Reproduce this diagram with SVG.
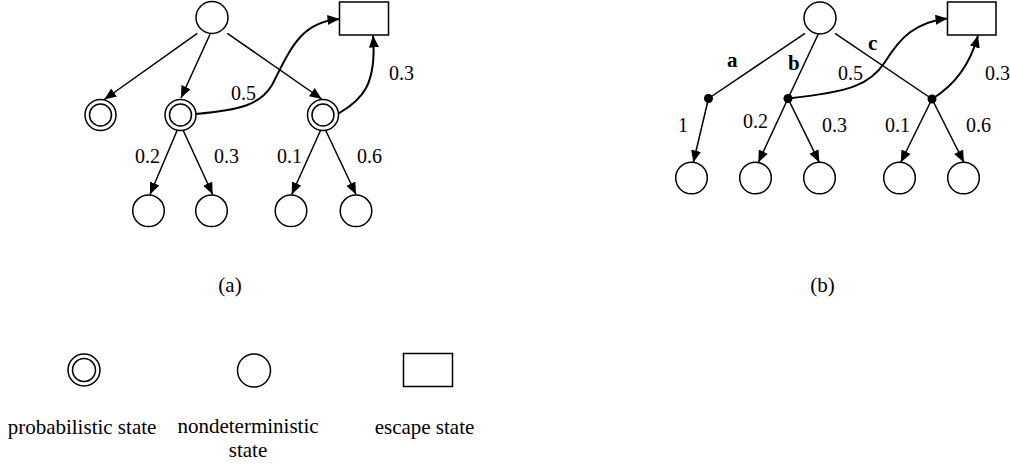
<svg xmlns="http://www.w3.org/2000/svg" width="1010" height="468" viewBox="0 0 1010 468">
<defs>
<style>
.n{fill:#fff;stroke:#000;stroke-width:1.5}
.e{fill:none;stroke:#000;stroke-width:1.5}
.c{fill:none;stroke:#000;stroke-width:2}
.t{font-family:"Liberation Serif","Times New Roman",serif;font-size:20px;fill:#000}
.b{font-family:"Liberation Serif","Times New Roman",serif;font-size:21px;font-weight:bold;fill:#000}
.l{font-family:"Liberation Serif","Times New Roman",serif;font-size:21px;fill:#000}
.d{fill:#000}
</style>
<marker id="ah" viewBox="0 0 12 10" refX="12" refY="5" markerWidth="12" markerHeight="10" markerUnits="userSpaceOnUse" orient="auto">
<path d="M0,0 L12,5 L0,10 Z" fill="#000"/>
</marker>
</defs>
<rect width="1010" height="468" fill="#fff"/>

<!-- Panel (a) nodes -->
<g id="a-top"><circle class="n" cx="212" cy="17.5" r="16"/></g>
<g id="a-escape"><rect class="n" x="339.5" y="2" width="49" height="33"/></g>
<g id="a-p1"><circle class="n" cx="100.5" cy="115" r="15.5"/><circle class="n" cx="100.5" cy="115" r="11"/></g>
<g id="a-p2"><circle class="n" cx="180.5" cy="115" r="15.5"/><circle class="n" cx="180.5" cy="115" r="11"/></g>
<g id="a-p3"><circle class="n" cx="323" cy="115" r="15.5"/><circle class="n" cx="323" cy="115" r="11"/></g>
<g id="a-b1"><circle class="n" cx="148.5" cy="210.8" r="15.8"/></g>
<g id="a-b2"><circle class="n" cx="211.5" cy="210.8" r="15.8"/></g>
<g id="a-b3"><circle class="n" cx="291" cy="210.8" r="15.8"/></g>
<g id="a-b4"><circle class="n" cx="356" cy="210.8" r="15.8"/></g>

<!-- Panel (b) nodes -->
<g id="b-top"><circle class="n" cx="820" cy="18" r="16"/></g>
<g id="b-escape"><rect class="n" x="947.5" y="2" width="48.5" height="33"/></g>
<g id="b-da"><circle class="d" cx="708.5" cy="98.5" r="4.5"/></g>
<g id="b-db"><circle class="d" cx="788" cy="98.5" r="4.5"/></g>
<g id="b-dc"><circle class="d" cx="932" cy="99" r="4.5"/></g>
<g id="b-b1"><circle class="n" cx="691.5" cy="178" r="15.8"/></g>
<g id="b-b2"><circle class="n" cx="755.5" cy="178" r="15.8"/></g>
<g id="b-b3"><circle class="n" cx="819.5" cy="178" r="15.8"/></g>
<g id="b-b4"><circle class="n" cx="899.5" cy="178" r="15.8"/></g>
<g id="b-b5"><circle class="n" cx="963.5" cy="178" r="15.8"/></g>

<!-- Connectors -->
<g id="connectors">
<line class="e" x1="197.3" y1="33.3" x2="104.3" y2="99.5" marker-end="url(#ah)"/>
<line class="e" x1="210" y1="34.3" x2="181" y2="98" marker-end="url(#ah)"/>
<line class="e" x1="227.3" y1="33.3" x2="321.7" y2="99" marker-end="url(#ah)"/>
<line class="e" x1="177.3" y1="130" x2="150" y2="194.5" marker-end="url(#ah)"/>
<line class="e" x1="183" y1="130" x2="212.7" y2="194.5" marker-end="url(#ah)"/>
<line class="e" x1="320.7" y1="130" x2="291.7" y2="194.5" marker-end="url(#ah)"/>
<line class="e" x1="325.5" y1="130" x2="356" y2="194.5" marker-end="url(#ah)"/>
<path class="c" d="M196,114 C240,110 260,105 272,85 C290,50 300,22 339.5,19" marker-end="url(#ah)"/>
<path class="c" d="M338.5,113.5 C362,100 377,85 373,35.5" marker-end="url(#ah)"/>

<line class="e" x1="805" y1="33.3" x2="708.5" y2="98.5"/>
<line class="e" x1="818.3" y1="34" x2="788" y2="98.5"/>
<line class="e" x1="835" y1="33.3" x2="932" y2="99"/>
<line class="e" x1="708.5" y1="98.5" x2="693.3" y2="162.5" marker-end="url(#ah)"/>
<line class="e" x1="788" y1="98.5" x2="758.3" y2="162.5" marker-end="url(#ah)"/>
<line class="e" x1="788" y1="98.5" x2="819.3" y2="162.3" marker-end="url(#ah)"/>
<line class="e" x1="932" y1="99" x2="900.7" y2="162.5" marker-end="url(#ah)"/>
<line class="e" x1="932" y1="99" x2="964" y2="162.5" marker-end="url(#ah)"/>
<path class="c" d="M788,98.5 C850,92 870,85 885,62 C900,38 915,22 947.5,18.5" marker-end="url(#ah)"/>
<path class="c" d="M932,99 C955,85 970,65 978,35.5" marker-end="url(#ah)"/>
</g>

<!-- Labels (a) -->
<text class="t" x="231" y="100">0.5</text>
<text class="t" x="389" y="80">0.3</text>
<text class="t" x="135" y="163">0.2</text>
<text class="t" x="214" y="163">0.3</text>
<text class="t" x="277" y="163">0.1</text>
<text class="t" x="357" y="163">0.6</text>

<!-- Labels (b) -->
<text class="b" x="727" y="67">a</text>
<text class="b" x="788" y="70">b</text>
<text class="b" x="868" y="50">c</text>
<text class="t" x="838" y="80">0.5</text>
<text class="t" x="985" y="80">0.3</text>
<text class="t" x="678" y="132">1</text>
<text class="t" x="743" y="128">0.2</text>
<text class="t" x="822" y="132">0.3</text>
<text class="t" x="885" y="132">0.1</text>
<text class="t" x="966" y="132">0.6</text>

<!-- Captions -->
<text class="l" x="230" y="292" text-anchor="middle">(a)</text>
<text class="l" x="822.5" y="292" text-anchor="middle">(b)</text>

<!-- Legend -->
<g id="legend-prob"><circle class="n" cx="84" cy="370" r="16"/><circle class="n" cx="84" cy="370" r="11.5"/></g>
<g id="legend-nondet"><circle class="n" cx="254" cy="370.5" r="16.5"/></g>
<g id="legend-escape"><rect class="n" x="403.5" y="353.5" width="49" height="33"/></g>
<text class="l" x="82" y="434" text-anchor="middle">probabilistic state</text>
<text class="l" x="248" y="433" text-anchor="middle">nondeterministic</text>
<text class="l" x="248" y="457" text-anchor="middle">state</text>
<text class="l" x="424.5" y="434" text-anchor="middle">escape state</text>
</svg>
